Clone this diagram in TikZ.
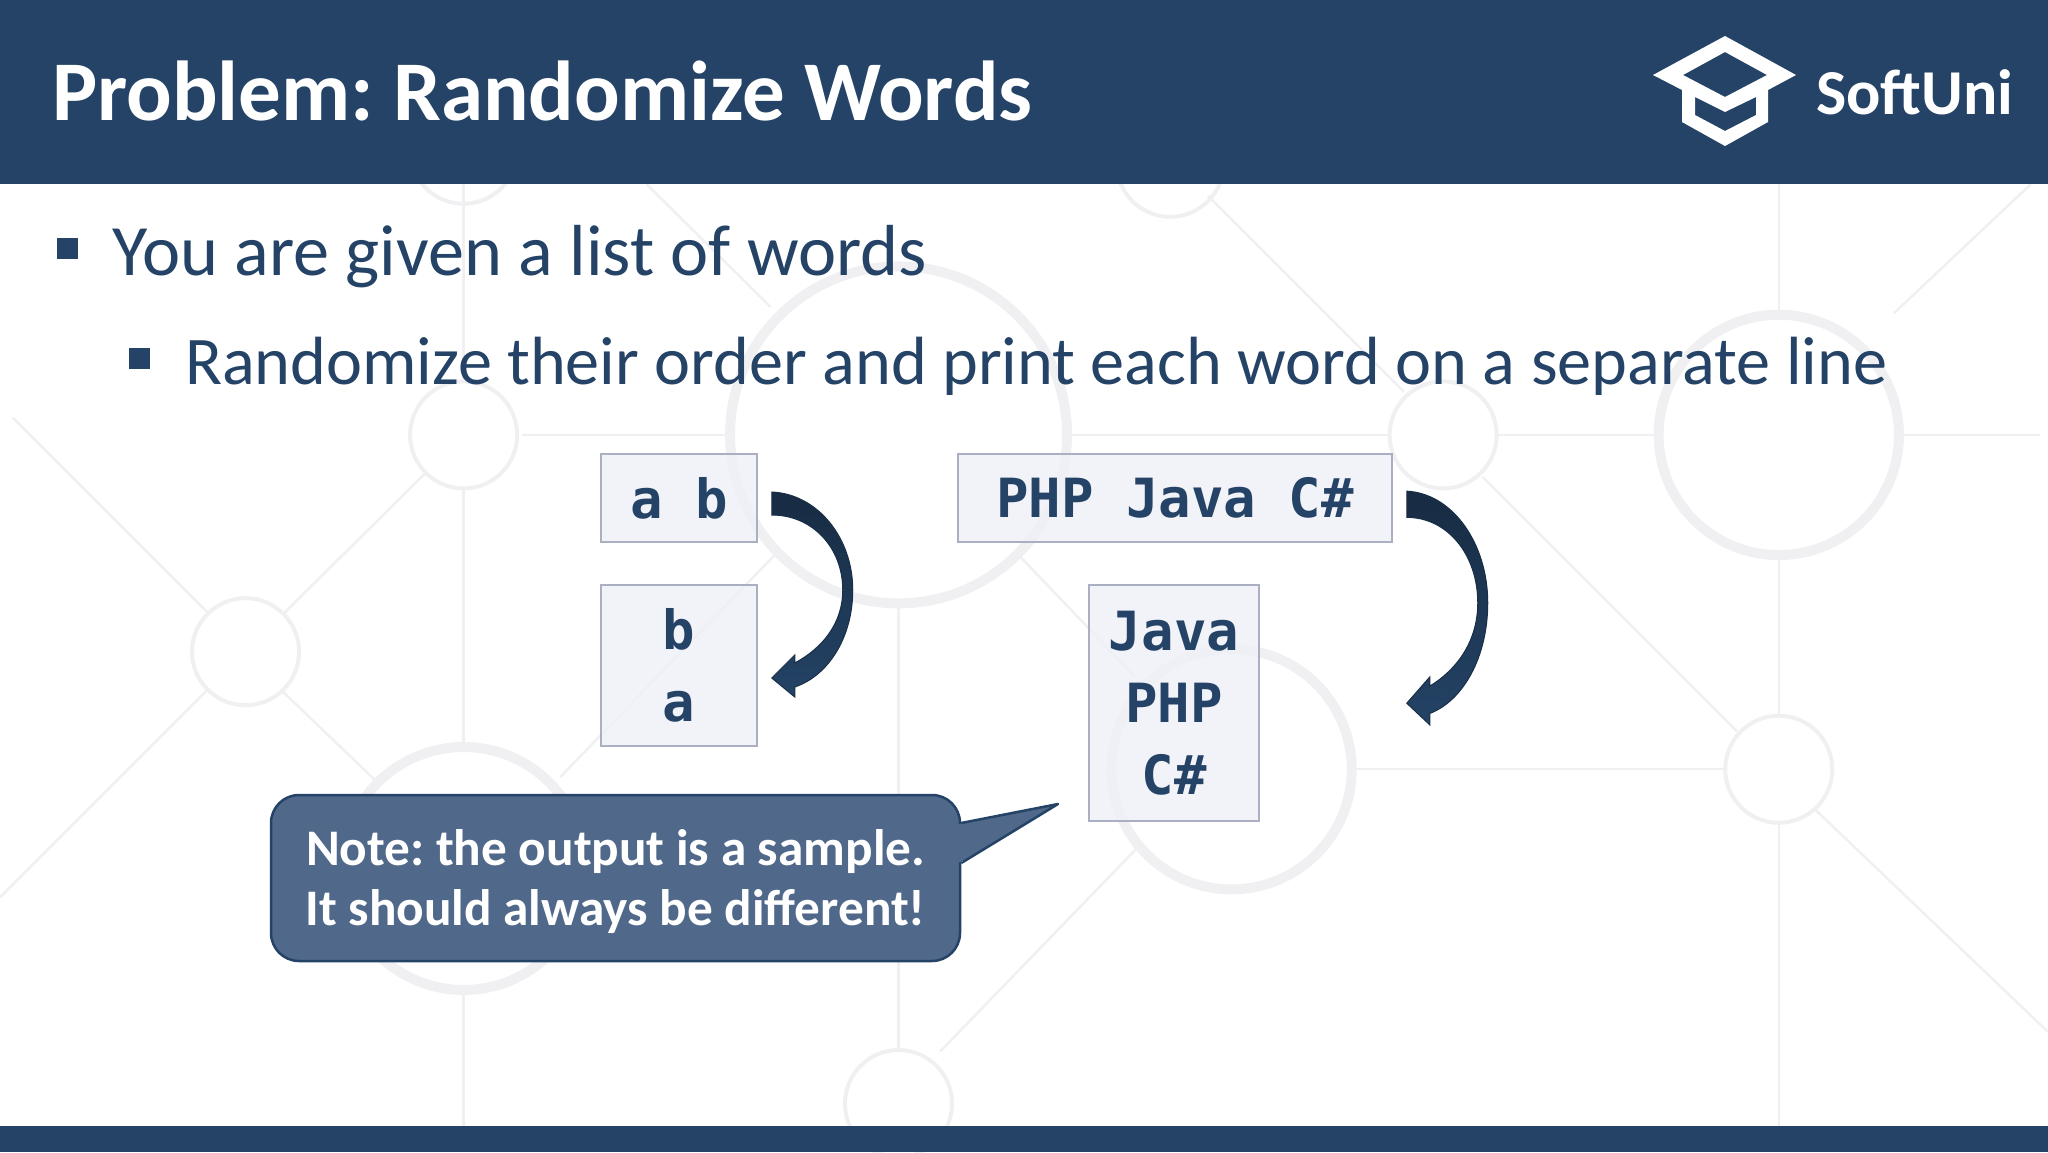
\documentclass[tikz,border=0pt]{standalone}
\usepackage{fontspec}
\setmainfont{Carlito}
\setmonofont{DejaVu Sans Mono}
\usetikzlibrary{positioning, calc}

\definecolor{navy}{HTML}{244366}
\definecolor{notefill}{HTML}{50698A}
\definecolor{ringgray}{HTML}{F0F0F2}
\definecolor{boxfill}{HTML}{EFF0F6}
\definecolor{boxline}{HTML}{ABAFC2}

% Filled bent arrow, starts at a box's east side
\newcommand{\bentarrow}[2]{%
    \begin{scope}[shift={(#1)}, yscale=#2]
        \path[bentstyle] (14,-6) .. controls (60,-4) and (95,40) .. (95,92)
            .. controls (95,140) and (70,178) .. (37,189)
            -- (37,199) -- (14,180) -- (37,157) -- (37,165)
            .. controls (65,150) and (85,125) .. (85,92)
            .. controls (85,50) and (55,17) .. (14,17) -- cycle;
    \end{scope}%
}
\newcommand{\notelinedown}[1]{\raisebox{-4pt}[\height][\depth]{#1}}

\begin{document}
\frenchspacing
\begin{tikzpicture}[
    x=1pt, y=-1pt,
    ring/.style={draw=ringgray, line width=4pt},
    thickring/.style={draw=ringgray, line width=10pt},
    wire/.style={draw=ringgray, line width=2.5pt},
    box/.style={draw=boxline, line width=1.5pt, fill=boxfill, fill opacity=0.8, text opacity=1,
        text=navy, inner sep=0pt, align=center,
        font=\ttfamily\bfseries\fontsize{54}{72}\selectfont},
    note/.style={draw=navy, line width=2.5pt, fill=notefill, rounded corners=28pt,
        text=white, inner sep=0pt, align=center,
        minimum width=689pt, minimum height=166pt,
        font=\bfseries\fontsize{51.3}{60}\selectfont},
    bentstyle/.style={draw=navy!70!black, line width=1pt, top color=navy!65!black, bottom color=navy},
    slidetext/.style={anchor=base west, text=navy, inner sep=0pt},
    bullet/.style={fill=navy, inner sep=0pt, minimum size=21pt}
]
    \useasboundingbox (0,0) rectangle (2048,1152);

    % --- Background network ---
    \begin{scope}[scale=1.306]
        \foreach \x/\y in {355/333, 188/499, 1105/333, 1362/589, 688/845, 355/115, 896/125}
            \draw[ring] (\x,\y) circle[radius=41];
        \foreach \x/\y/\r in {688/333/129, 1362/333/92, 943/589/92, 355/665/93}
            \draw[thickring] (\x,\y) circle[radius=\r];
        \foreach \xa/\ya/\xb/\yb in {355/141/355/292, 355/374/355/570, 355/760/355/862,
                688/465/688/805, 1362/141/1362/240, 1362/425/1362/548, 1362/630/1362/862,
                400/333/555/333, 820/333/1065/333, 1147/333/1268/333, 1455/333/1562/333,
                1038/589/1320/589, 10/320/160/470, 217/530/290/600, 327/361/217/470,
                160/527/0/687, 495/141/590/235, 925/150/1075/300, 1135/365/1330/560,
                1390/620/1568/790, 1450/240/1555/141, 778/423/869/518, 597/421/429/595,
                870/650/720/805}
            \draw[wire] (\xa,\ya) -- (\xb,\yb);
    \end{scope}

    % --- Header and footer ---
    \fill[navy] (0,0) rectangle (2048,184);
    \fill[navy] (0,1126) rectangle (2048,1152);
    \node[slidetext, text=white, font=\bfseries\fontsize{85}{90}\selectfont] (title) at (52,120) {Problem: Randomize Words};

    % --- Logo ---
    \fill[white, even odd rule] (1653,75) -- (1725,36) -- (1796,75) -- (1768,90) -- (1768,122)
        -- (1725,146) -- (1682,122) -- (1682,90) -- cycle
        (1683,75) -- (1725,52) -- (1767,75) -- (1725,97) -- cycle
        (1695,97) -- (1695,115) -- (1725,131) -- (1756,115) -- (1756,97) -- (1725,112) -- cycle;
    \node[slidetext, text=white, font=\bfseries\fontsize{64}{70}\selectfont] (logotext) at (1816,114) {SoftUni};

    % --- Bullets ---
    \node[bullet] (bulletone) at (67,248) {};
    \node[slidetext, font=\fontsize{72.3}{80}\selectfont] (lineone) at (112,275) {You are given a list of words};
    \node[bullet] (bullettwo) at (139,358) {};
    \node[slidetext, font=\fontsize{68.2}{80}\selectfont] (linetwo) at (185,384) {Randomize their order and print each word on a separate line};

    % --- Boxes ---
    \node[box, minimum width=156pt, minimum height=88pt] (ab) at (679,498) {a b};
    \node[box, minimum width=156pt, minimum height=161pt] (ba) at (679,665.5) {b\\a};
    \node[box, minimum width=434pt, minimum height=88pt] (wordsin) at (1175,498) {PHP Java C\#};
    \node[box, minimum width=170pt, minimum height=236pt] (wordsout) at (1174,703) {Java\\PHP\\C\#};

    % --- Arrows ---
    \bentarrow{ab.east}{1}
    \bentarrow{wordsin.east}{1.14}

    % --- Note ---
    \node[note] (sample) at (615.5,878) {\notelinedown{Note: the output is a sample.}\\\notelinedown{It should always be different!}};
    \coordinate (sampletip) at (1058,804);
    \path[fill=notefill, draw=navy, line width=2.5pt, line join=round] ([yshift=55pt]sample.east) -- (sampletip) -- ([yshift=15pt]sample.east);
    \fill[notefill] ([xshift=-3pt,yshift=54pt]sample.east) rectangle ([xshift=2pt,yshift=16pt]sample.east);

\end{tikzpicture}
\end{document}
